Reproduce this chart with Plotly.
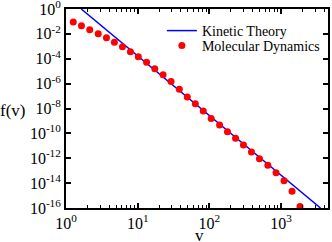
import plotly.graph_objects as go

# Kinetic theory line (straight line in log-log)
kt_v = [1.63, 3560]
kt_f = [1.0, 1e-16]

# Molecular dynamics points
md_v = [1.26, 1.64, 2.14, 2.81, 3.66, 4.73, 6.12, 7.91, 10.2, 13.3, 17.3, 22.6, 29.2,
        38.1, 49.2, 63.7, 82.2, 106, 139, 179, 232, 299, 387, 500, 655, 853, 1102,
        1426, 1841]
md_f = [0.0902, 0.0457, 0.0219, 0.0102, 4.9e-3, 2.09e-3, 9.3e-4, 3.7e-4, 1.48e-4,
        5.2e-5, 1.58e-5, 5.2e-6, 1.45e-6, 3.5e-7, 8.5e-8, 2.45e-8, 6.3e-9, 1.58e-9,
        4.8e-10, 1.38e-10, 4.1e-11, 1.17e-11, 3.2e-12, 9.3e-13, 2.75e-13, 6.9e-14,
        1.58e-14, 2.24e-15, 1.29e-16]

x_tickvals = [1, 10, 100, 1000]
x_ticktext = ["10<sup>0</sup>", "10<sup>1</sup>", "10<sup>2</sup>", "10<sup>3</sup>"]
x_minor = [m * d for d in [1, 10, 100, 1000] for m in range(2, 10)]
y_exps = [0, -2, -4, -6, -8, -10, -12, -14, -16]
y_tickvals = [10.0 ** e for e in y_exps]
y_ticktext = ["10<sup>%d</sup>" % e for e in y_exps]

FONT = "Liberation Serif"

fig = go.Figure()
fig.add_trace(go.Scatter(x=kt_v, y=kt_f, mode="lines", name="Kinetic Theory",
                         line=dict(color="#0000ff", width=1.5), legend="legend"))
fig.add_trace(go.Scatter(x=md_v, y=md_f, mode="markers", name="Molecular Dynamics",
                         marker=dict(color="#ff0000", size=7), legend="legend2"))

axis_common = dict(showline=True, linecolor="black", linewidth=2, mirror="ticks",
                   ticks="inside", tickcolor="black", tickwidth=1.5, ticklen=5,
                   showgrid=False, zeroline=False, ticklabeloverflow="allow",
                   automargin=False,
                   tickfont=dict(family=FONT, size=16, color="black"))

fig.update_xaxes(type="log", range=[-0.001, 3.656], tickvals=x_tickvals, ticktext=x_ticktext,
                 minor=dict(tickvals=x_minor, ticks="inside", ticklen=3, tickwidth=1.2,
                            tickcolor="black", showgrid=False),
                 **axis_common)
fig.update_yaxes(type="log", range=[-16.001, 0.001], tickvals=y_tickvals, ticktext=y_ticktext,
                 **axis_common)

leg_common = dict(xanchor="left", yanchor="middle", bgcolor="rgba(0,0,0,0)",
                  font=dict(family=FONT, size=14, color="black"))

fig.update_layout(
    width=332, height=242,
    margin=dict(l=66, r=4, t=9, b=34, autoexpand=False),
    paper_bgcolor="white", plot_bgcolor="white",
    font=dict(family=FONT, color="black"),
    showlegend=True,
    legend=dict(x=0.366, y=1 - (31 - 9) / 199, **leg_common),
    legend2=dict(x=0.366, y=1 - (46 - 9) / 199, **leg_common),
    annotations=[
        dict(text="f(v)", xref="paper", yref="paper", x=-0.258, y=0.49,
             xanchor="left", yanchor="middle", showarrow=False,
             font=dict(family=FONT, size=17)),
        dict(text="v", xref="paper", yref="paper", x=0.51, y=-(235 - 208) / 199,
             xanchor="center", yanchor="middle", showarrow=False,
             font=dict(family=FONT, size=17)),
    ],
)

fig.write_html("out.html", config={"displayModeBar": False},
               post_script="document.body.style.margin='0';document.body.style.padding='0';")
